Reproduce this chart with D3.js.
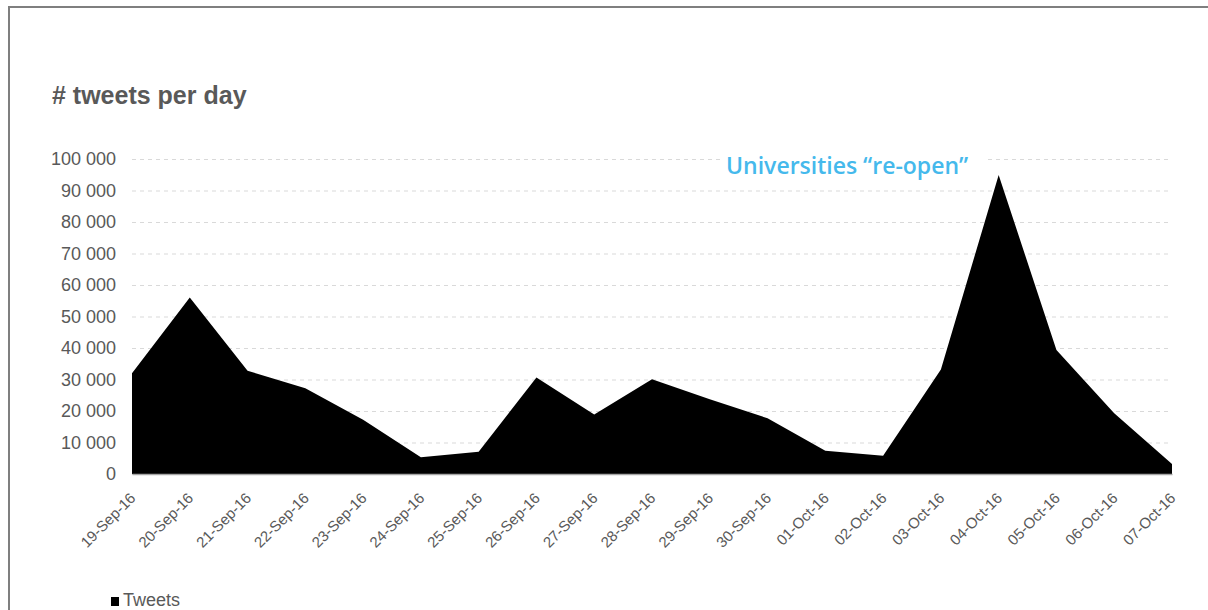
<!DOCTYPE html>
<meta charset="utf-8">
<script src="https://d3js.org/d3.v7.min.js"></script>
<style>
	body{
		margin:0;
		background:#fff;
		font-family: 'Liberation Sans', Arial, sans-serif;
	}
</style>
<div id="chart"></div>
<script>
	// tweets per day
	var days = ["19-Sep-16","20-Sep-16","21-Sep-16","22-Sep-16","23-Sep-16","24-Sep-16","25-Sep-16",
		"26-Sep-16","27-Sep-16","28-Sep-16","29-Sep-16","30-Sep-16","01-Oct-16","02-Oct-16",
		"03-Oct-16","04-Oct-16","05-Oct-16","06-Oct-16","07-Oct-16"]
	var tweets = [32000,56000,32800,27200,17200,5300,7100,30600,18900,30100,23700,17700,7400,5800,
		33200,94900,39400,19300,3200]
	var yTicks = [0,10000,20000,30000,40000,50000,60000,70000,80000,90000,100000]

	var w = 1208
	var h = 610
	var textGrey = "#595959"

	var svg = d3.select("#chart").append("svg").attr("width",w).attr("height",h)

	// frame (top and left edges only)
	svg.append("path").attr("d","M9,610 V7 H1208").attr("fill","none").attr("stroke","#7f7f7f").attr("stroke-width",2)

	var xScale = d3.scalePoint().domain(days).range([132,1172])
	var yScale = d3.scaleLinear().domain([0,100000]).range([474,159])

	// title
	svg.append("text").text("# tweets per day")
		.attr("x",52).attr("y",104)
		.attr("font-size",25).attr("font-weight","bold").attr("fill",textGrey)

	// gridlines + y labels
	var yAxis = d3.axisLeft(yScale).tickValues(yTicks)
		.tickSize(-(1172-132)).tickPadding(16)
		.tickFormat(function(d){return d3.format(",")(d).replace(/,/g," ")})
	var gy = svg.append("g").attr("transform","translate(132,0)").call(yAxis)
	gy.select(".domain").remove()
	gy.selectAll(".tick line").attr("stroke","#d9d9d9").attr("stroke-dasharray","4,4")
	gy.selectAll(".tick text").attr("fill",textGrey).attr("font-size",18)
		.attr("font-family","'Liberation Sans', Arial, sans-serif")

	// area
	var area = d3.area()
		.x(function(d,i){return xScale(days[i])})
		.y0(yScale(0))
		.y1(function(d){return yScale(d)})
	svg.append("path").datum(tweets).attr("d",area).attr("fill","#000")

	// x axis
	var xAxis = d3.axisBottom(xScale).tickSize(0).tickFormat(function(d){return d})
	var gx = svg.append("g").attr("transform","translate(0,"+yScale(0)+")").call(xAxis)
	gx.select(".domain").attr("stroke","#a6a6a6").attr("stroke-width",1.5)
	gx.selectAll(".tick text")
		.attr("fill",textGrey).attr("font-size",15)
		.attr("font-family","'Liberation Sans', Arial, sans-serif")
		.style("text-anchor","end")
		.attr("y",0).attr("dy",0)
		.attr("transform","translate(4,25) rotate(-45)")

	// annotation
	var note = svg.append("g")
	note.append("rect").attr("x",720).attr("y",148).attr("width",268).attr("height",34).attr("fill","#fff")
	note.append("text").text("Universities \u201cre-open\u201d")
		.attr("x",726).attr("y",174)
		.attr("font-family","'Open Sans', sans-serif").attr("font-size",23).attr("font-weight",600)
		.attr("fill","#45b9ec")

	// legend
	svg.append("rect").attr("x",111).attr("y",597).attr("width",8).attr("height",9).attr("fill","#000")
	svg.append("text").text("Tweets").attr("x",123).attr("y",606)
		.attr("font-size",18).attr("fill",textGrey)
</script>
